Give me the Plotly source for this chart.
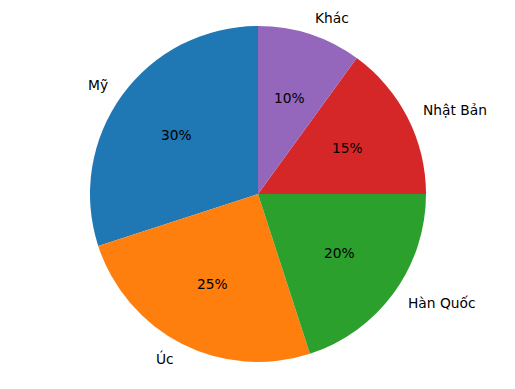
import math
import plotly.graph_objects as go

labels = ["Mỹ", "Úc", "Hàn Quốc", "Nhật Bản", "Khác"]
values = [30, 25, 20, 15, 10]
colors = ["#1f77b4", "#ff7f0e", "#2ca02c", "#d62728", "#9467bd"]

W, H = 515, 389
cx, cy, R = 258, 194, 168  # pie centre and radius in px

total = sum(values)
first_span = 360.0 * values[0] / total

fig = go.Figure(go.Pie(
    labels=labels, values=values, sort=False, direction="counterclockwise",
    rotation=-first_span, textinfo="none", hoverinfo="skip",
    marker=dict(colors=colors, line=dict(width=0)),
    domain=dict(x=[(cx - R) / W, (cx + R) / W], y=[1 - (cy + R) / H, 1 - (cy - R) / H]),
    showlegend=False,
))

font = dict(family="DejaVu Sans", size=13.8, color="black")
start = 90.0
anns = []
for lab, v in zip(labels, values):
    span = 360.0 * v / total
    mid = math.radians(start + span / 2)
    start += span
    right = math.cos(mid) > 0
    lx = cx + 1.1 * R * math.cos(mid)
    ly = cy - 1.1 * R * math.sin(mid)
    anns.append(dict(x=lx / W, y=1 - ly / H, xref="paper", yref="paper", text=lab,
                     showarrow=False, font=font, xanchor="left" if right else "right",
                     yanchor="middle", borderpad=0, xshift=-1 if right else 1))
    px = cx + 0.6 * R * math.cos(mid)
    py = cy - 0.6 * R * math.sin(mid)
    anns.append(dict(x=px / W, y=1 - py / H, xref="paper", yref="paper",
                     text=f"{round(100 * v / total)}%", showarrow=False, font=font,
                     xanchor="center", yanchor="middle", borderpad=0))

fig.update_layout(width=W, height=H, margin=dict(l=0, r=0, t=0, b=0),
                  paper_bgcolor="white", plot_bgcolor="white", annotations=anns)
fig.write_html("out.html")
